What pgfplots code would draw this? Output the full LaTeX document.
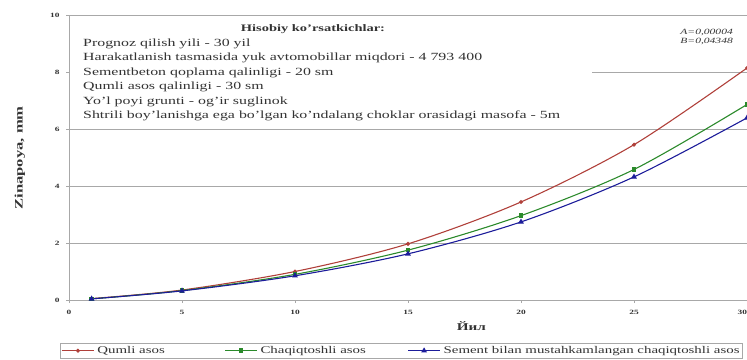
\documentclass[border=0pt]{standalone}
\usepackage{fontspec}
\setmainfont{Liberation Serif}[FakeStretch=1.45]
\usepackage{pgfplots}
\pgfplotsset{compat=1.18}

\definecolor{qred}{HTML}{B0403A}
\definecolor{qgreen}{HTML}{2B8A2B}
\definecolor{qblue}{HTML}{1C1C9A}
\definecolor{gridgray}{HTML}{A8A8A8}
\definecolor{txt}{HTML}{333333}

\pgfplotstableread{
x   y
1   0.05
5   0.35
10  1.00
15  1.97
20  3.44
25  5.45
30  8.14
}\qumli
\pgfplotstableread{
x   y
1   0.04
5   0.33
10  0.90
15  1.75
20  2.96
25  4.58
30  6.86
}\chaqiq
\pgfplotstableread{
x   y
1   0.04
5   0.32
10  0.85
15  1.62
20  2.74
25  4.32
30  6.39
}\sement

\begin{document}
\begin{tikzpicture}[x=1bp,y=1bp]
\begin{axis}[
  at={(69bp,59bp)}, anchor=south west,
  scale only axis, width=678bp, height=285bp,
  xmin=0, xmax=30, ymin=0, ymax=10,
  xtick={0,5,...,30}, ytick={0,2,...,10},
  xticklabels={0,5,10,15,20,25,\llap{30}},
  axis lines*=left,
  axis line style={gridgray, line width=0.9pt},
  ymajorgrids, grid style={gridgray, line width=0.9pt},
  tick align=outside, major tick length=3bp,
  tick style={gridgray, line width=0.6pt},
  /pgf/number format/assume math mode=true,
  ticklabel style={font=\bfseries\fontsize{6.5}{7}\selectfont, text=txt},
  yticklabel style={xshift=-3bp},
  xticklabel style={yshift=-4bp},
  xlabel={Йил},
  xlabel style={font=\bfseries\fontsize{10.5}{12}\selectfont, text=txt,
    at={(axis description cs:0.5935,0)}, anchor=center, yshift=-26bp},
  legend columns=3,
  legend style={at={(axis description cs:-0.0133,-0.151)}, anchor=north west,
    draw=gridgray, line width=0.8pt, inner sep=1pt,
    font=\fontsize{10.3}{10.5}\selectfont, text=txt,
    /tikz/every odd column/.append style={column sep=1bp}},
  legend cell align=left,
  legend image code/.code={\draw[mark repeat=2,mark phase=2]
    plot coordinates {(0bp,0bp) (16bp,0bp) (32bp,0bp)};},
]
\addplot[qred, line width=1.1pt, smooth, mark=*, mark size=1.4pt,
  mark options={fill=qred}] table {\qumli};
\addlegendentry{\makebox[125bp][l]{Qumli asos}}
\addplot[qgreen, line width=1.1pt, smooth, mark=square*, mark size=1.8pt,
  mark options={fill=qgreen}] table {\chaqiq};
\addlegendentry{\makebox[145bp][l]{Chaqiqtoshli asos}}
\addplot[qblue, line width=1.1pt, smooth, mark=triangle*, mark size=2.3pt,
  mark options={fill=qblue}] table {\sement};
\addlegendentry{Sement bilan mustahkamlangan chaqiqtoshli asos}
\end{axis}

% vertical axis title
\node[rotate=90, anchor=center, text=txt, font=\bfseries\fontsize{11.5}{12}\selectfont]
  at (20,201) {Zinapoya, mm};

% panel with the design parameters
\fill[white] (70,234) rectangle (592,342);
\node[font=\bfseries\fontsize{10}{11}\selectfont, text=txt, anchor=mid]
  at (313,330) {Hisobiy ko'rsatkichlar:};
\begin{scope}[every node/.style={anchor=mid west, inner sep=0pt, text=txt,
    font=\fontsize{11}{12}\selectfont}]
  \node at (83,315) {Prognoz qilish yili - 30 yil};
  \node at (83,300.5) {Harakatlanish tasmasida yuk avtomobillar miqdori - 4 793 400};
  \node at (83,286) {Sementbeton qoplama qalinligi - 20 sm};
  \node at (83,271.5) {Qumli asos qalinligi - 30 sm};
  \node at (83,257) {Yo'l poyi grunti - og'ir suglinok};
  \node at (83,242.5) {Shtrili boy'lanishga ega bo'lgan ko'ndalang choklar orasidagi masofa - 5m};
\end{scope}
\begin{scope}[every node/.style={anchor=mid east, inner sep=0pt, text=txt,
    font=\itshape\fontsize{8}{9}\selectfont}]
  \node at (733,327) {A=0,00004};
  \node at (733,318) {B=0,04348};
\end{scope}

\pgfresetboundingbox
\useasboundingbox (0,0) rectangle (747,359);
\end{tikzpicture}
\end{document}
